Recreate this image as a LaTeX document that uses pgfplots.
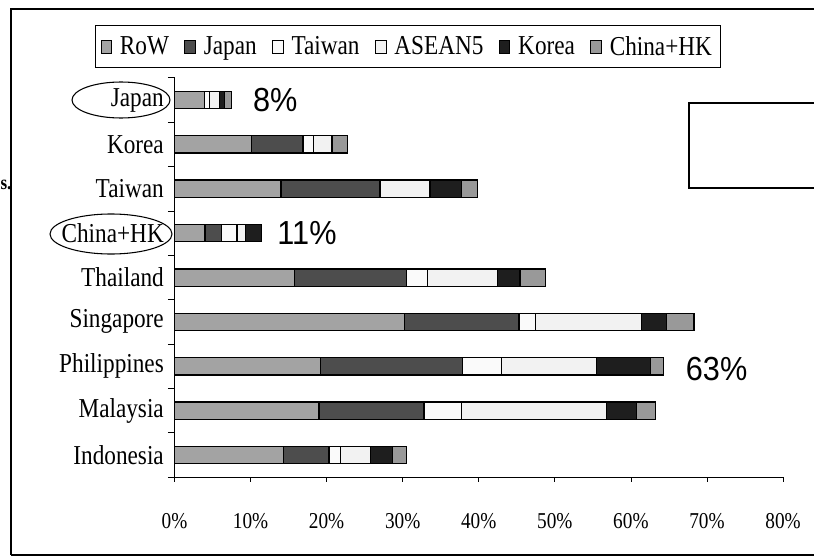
\documentclass[border=0pt]{standalone}
\usepackage{pgfplots}
\pgfplotsset{compat=1.18}
\usepackage{fontspec}
\setmainfont{Liberation Serif}[FakeStretch=0.85]
\newfontfamily\arialfont{Liberation Sans}[FakeStretch=0.92]
\definecolor{cRoW}{RGB}{163,163,163}
\definecolor{cJapan}{RGB}{77,77,77}
\definecolor{cTaiwan}{RGB}{250,250,250}
\definecolor{cASEAN}{RGB}{242,242,242}
\definecolor{cKorea}{RGB}{30,30,30}
\definecolor{cCHK}{RGB}{153,153,153}
\pgfplotstableread{
idx RoW Japan Taiwan ASEAN Korea CHK
0 14.3 6.0 1.5 4.0 2.9 1.8
1 19.0 13.8 4.9 19.1 3.9 2.5
2 19.2 18.7 5.1 12.5 7.1 1.7
3 30.2 15.1 2.2 13.9 3.3 3.6
4 15.8 14.7 2.8 9.2 2.9 3.4
5 4.0 2.2 2.0 1.1 2.1 0
6 14.0 13.0 0 6.6 4.1 2.1
7 10.1 6.8 1.4 2.4 0 2.0
8 3.9 0 0.7 1.3 0.7 0.9
}\datatable
\begin{document}
\begin{tikzpicture}
\begin{scope}[x=0.75pt,y=-0.75pt]
\useasboundingbox (0,0) rectangle (814,560);
\draw[line width=1.5pt] (11,555) -- (11,9) -- (830,9);
\draw[line width=1pt] (11,555) -- (830,555);
\node[anchor=base west,inner sep=0pt,font=\bfseries\fontsize{15}{17}\selectfont] at (0.3,189) {s.};
\draw[line width=0.8pt] (689,103) rectangle (830,188);
\end{scope}
\begin{axis}[
  at={(130.875pt,-357.9pt)}, anchor=south west,
  scale only axis, width=456.4pt, height=299.55pt,
  xbar stacked, bar width=13pt,
  xmin=0, xmax=80, ymin=-0.5, ymax=8.5,
  axis x line*=bottom, axis y line*=left,
  axis line style={line width=0.6pt},
  xtick={0,10,...,80},
  xticklabel={\pgfmathprintnumber{\tick}\%},
  /pgf/number format/assume math mode=true,
  ytick={0,...,8},
  yticklabels={Indonesia,Malaysia,Philippines,Singapore,Thailand,China+HK,Taiwan,Korea,Japan},
  minor ytick={-0.5,0.5,...,8.5},
  every major y tick/.append style={draw=none},
  tick align=outside,
  major tick length=3.5pt, minor tick length=5pt,
  tick style={line width=0.6pt,black},
  yticklabel style={font=\fontsize{20.5}{23}\selectfont, xshift=-1pt},
  xticklabel style={font=\fontsize{17}{20}\selectfont, yshift=-20pt},
  legend style={at={(0.383,1.078)}, anchor=center, legend columns=6, draw=black, line width=0.6pt,
    font=\fontsize{20.5}{23}\selectfont, inner ysep=6pt, inner xsep=4pt,
    /tikz/every odd column/.append style={column sep=4pt},
    /tikz/every even column/.append style={column sep=9.5pt}},
  legend image code/.code={\draw[#1,draw=black,line width=0.6pt] (0pt,-5pt) rectangle (8pt,5pt);},
  every axis plot/.append style={draw=black, line width=1pt},
  clip=false,
]
\addplot[fill=cRoW] table[x=RoW,y=idx] {\datatable};
\addplot[fill=cJapan] table[x=Japan,y=idx] {\datatable};
\addplot[fill=cTaiwan] table[x=Taiwan,y=idx] {\datatable};
\addplot[fill=cASEAN] table[x=ASEAN,y=idx] {\datatable};
\addplot[fill=cKorea] table[x=Korea,y=idx] {\datatable};
\addplot[fill=cCHK] table[x=CHK,y=idx] {\datatable};
\legend{RoW,Japan,Taiwan,ASEAN5,Korea,China+HK}
\node[anchor=west,inner sep=0pt,font=\arialfont\fontsize{25}{29}\selectfont] at (axis cs:10.3,8) {8\%};
\node[anchor=west,inner sep=0pt,font=\arialfont\fontsize{25}{29}\selectfont] at (axis cs:13.5,5) {11\%};
\node[anchor=west,inner sep=0pt,font=\arialfont\fontsize{25}{29}\selectfont] at (axis cs:67.2,1.93) {63\%};
\end{axis}
\begin{scope}[x=0.75pt,y=-0.75pt]
\draw[line width=0.8pt] (121,100) ellipse (49 and 18);
\draw[line width=0.8pt] (111,234) ellipse (61 and 20);
\end{scope}
\end{tikzpicture}
\end{document}
